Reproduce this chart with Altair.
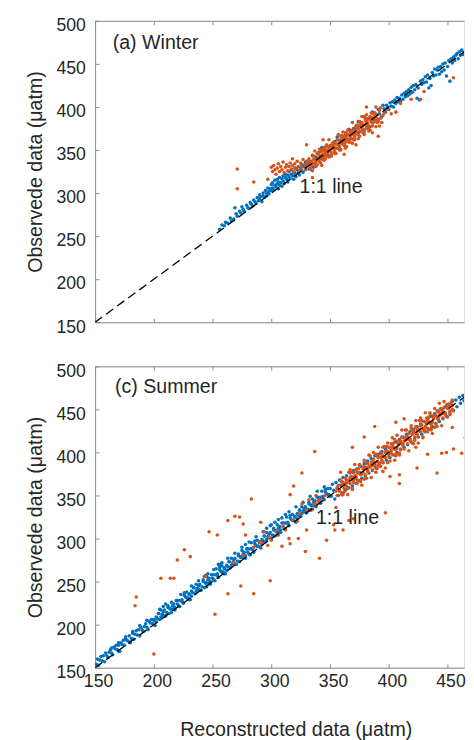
import altair as alt
import pandas as pd

BLUE = "#0072BD"
ORANGE = "#D95319"
TXT = "#262626"
AX = "#8a8a8a"
FONT = "Liberation Sans"

x_ticks = [150, 200, 250, 300, 350, 400, 450]
y_ticks = [150, 200, 250, 300, 350, 400, 450, 500]
x_domain = [150, 464]
y_domain = [150, 500]
one_to_one = [150, 500]

winter_blue = [
    (256,258),(258,263),(260,262),(261,266),(263,265),(265,271),(266,268),(268,270),(269,283),(270,276),
    (271,273),(273,279),(274,277),(275,284),(276,281),(277,279),(279,286),(280,283),(281,282),(282,289),
    (283,287),(284,285),(285,292),(286,290),(287,288),(288,295),(289,291),(290,298),(290,293),(291,296),
    (292,290),(293,300),(293,297),(294,295),(295,303),(296,300),(296,297),(297,306),(298,302),(298,299),
    (299,305),(300,310),(300,303),
    (301,306),(301,312),(302,304),(303,309),(303,315),(304,307),(305,311),(305,316),(306,305),(306,313),
    (307,309),(307,318),(308,312),(309,308),(309,317),(310,314),(310,320),(311,311),(312,318),(312,322),
    (313,316),(314,313),(314,321),(315,319),(315,325),(316,317),(317,322),(317,327),(318,320),(319,316),
    (319,325),(320,323),(320,329),(321,319),(322,327),(323,324),(323,331),(324,321),(325,329),(326,326),
    (326,333),(327,324),(328,331),(329,327),(329,336),(330,333),
    (331,337),(332,328),(334,336),(335,344),(336,330),(338,342),(339,339),(340,347),(342,340),(343,353),
    (344,339),(346,349),(347,355),(348,347),(350,355),(351,344),(352,353),(354,360),(355,352),(356,365),
    (358,354),(359,361),(360,367),(362,356),(363,367),(364,363),(366,374),(367,367),(368,363),(370,375),
    (371,374),(372,370),(374,383),(375,371),(376,382),(378,379),(379,373),(380,387),(382,379),(383,387),
    (384,377),(386,394),(387,385),(388,393),(390,386),(391,397),(392,392),(394,389),(395,402),
    (396,398),(397,394),(398,402),(399,400),(400,397),(401,405),(402,401),(403,406),(404,400),(405,408),
    (406,404),(407,411),(408,406),(409,410),(410,407),(411,414),(412,409),(413,416),(414,412),(415,418),
    (416,413),(417,420),(418,415),(419,423),(420,417),(421,425),(422,420),(423,426),(424,410),(425,422),
    (426,408),(427,430),(428,426),(429,432),(430,428),(431,435),(432,429),(433,437),(434,422),(435,433),
    (436,425),(437,440),(438,436),(439,444),(440,437),(441,443),(442,446),(443,438),(444,447),(445,441),
    (446,450),(447,443),(448,451),(449,436),(450,447),(451,454),(452,430),(453,456),(454,451),(455,458),
    (456,454),(457,460),(458,462),(459,456),(460,464),(461,460),(462,466),(463,461),(464,463),
]

winter_orange = [
    (271,328),(271,305),(285,313),(297,316),(381,400),(330,356),(391,366),(344,362),(372,356),(362,345),
    (335,318),(318,340),(396,393),(399,397),(402,392),(406,394),(410,404),(419,409),(427,409),(455,434),
    (430,418),(392,378),(386,370),
    (300,330),(301,325),(302,332),(303,327),(304,322),(305,329),(306,334),(307,325),(308,331),(309,327),
    (310,336),(311,324),(312,330),(313,333),(314,326),(315,331),(316,335),(317,328),(318,332),(319,325),
    (320,334),(321,329),(322,337),(323,331),(324,326),(325,335),(326,330),(327,339),(328,333),(329,328),
    (330,337),
    (331,333),(332,340),(333,329),(334,337),(335,343),(336,334),(337,339),(338,331),(339,346),(340,341),
    (341,336),(342,348),(343,340),(344,345),(345,338),(346,351),(347,344),(348,349),(349,342),(350,354),
    (351,347),(352,358),(353,351),(354,346),(355,357),(356,352),(357,362),(358,355),(359,350),(360,363),
    (361,357),(362,366),(363,359),(364,354),(365,368),(366,361),(367,371),(368,364),(369,358),(370,373),
    (371,366),(372,377),(373,369),(374,363),(375,378),(376,372),(377,382),(378,374),(379,368),(380,384),
    (381,376),(382,386),(383,378),(384,373),(385,388),(386,381),(387,392),(388,383),(389,377),(390,391),
    (391,385),(392,396),(393,387),(394,382),(395,390),
    (332,334),(334,332),(336,339),(338,337),(340,338),(342,343),(344,341),(346,347),(348,345),(350,350),
    (352,353),(354,352),(356,357),(358,359),(360,358),(362,361),(364,364),(366,367),(368,369),(370,368),
    (372,371),(374,375),(376,378),(378,379),(380,379),(382,381),(384,385),(386,387),(388,388),(390,386),
    (333,337),(337,335),(341,344),(345,343),(349,351),(353,355),(357,356),(361,363),(365,362),(369,370),
    (373,374),(377,376),(381,383),(385,383),(389,391),(343,350),(351,343),(359,366),(367,359),(375,383),
    (383,374),(347,356),(363,370),(371,362),(379,389),
    (335,326),(337,349),(339,333),(341,351),(343,332),(345,353),(347,343),(349,362),(351,343),(353,359),
    (355,346),(357,368),(359,351),(361,371),(363,352),(365,373),(367,363),(369,382),(371,363),(373,379),
    (375,366),(377,389),(379,371),(381,391),(383,372),(385,393),(387,383),(389,400),(391,383),(393,399),
    (336,343),(340,346),(344,349),(348,354),(352,356),(356,362),(360,366),(364,369),(368,373),(372,378),
    (376,381),(380,386),(384,389),(388,393),(334,327),(338,333),(342,335),(346,340),(350,343),(354,348),
    (358,350),(362,355),(366,359),(370,362),(374,368),(378,370),(382,375),(386,378),(390,382),
]

summer_blue = [
    (151,154),(152,160),(153,153),(154,159),(155,163),(156,158),(157,164),(158,157),(159,167),(160,164),
    (161,162),(162,168),(163,171),(164,167),(165,165),(166,174),(167,172),(168,176),(169,171),(170,176),
    (171,169),(172,179),(173,177),(174,182),(175,176),(176,184),(177,182),(178,181),(179,187),(180,180),
    (181,184),(182,190),(183,183),(184,189),(185,193),(186,188),(187,194),(188,187),(189,197),(190,194),
    (191,192),(192,198),(193,201),(194,197),(195,195),(196,204),(197,202),(198,206),(199,201),(200,206),
    (201,199),(202,209),(203,207),(204,213),(205,206),(206,217),(207,212),(208,211),(209,217),(210,210),
    (211,214),(212,220),(213,213),(214,219),(215,226),(216,218),(217,224),(218,217),(219,228),(220,224),
    (221,222),(222,228),(223,235),(224,227),(225,225),(226,234),(227,232),(228,238),(229,231),(230,236),
    (231,229),(232,239),(233,237),(234,243),(235,236),(236,247),(237,242),(238,241),(239,247),(240,240),
    (241,244),(242,250),(243,243),(244,249),(245,256),(246,248),(247,254),(248,247),(249,258),(250,254),
    (251,252),(252,258),(253,265),(254,257),(255,255),(256,264),(257,262),(258,268),(259,261),(260,266),
    (261,259),(262,269),(263,267),(264,273),(265,266),(266,277),(267,272),(268,271),(269,277),(270,270),
    (271,274),(272,280),(273,273),(274,279),(275,286),(276,278),(277,284),(278,277),(279,288),(280,284),
    (281,282),(282,288),(283,295),(284,287),(285,285),(286,294),(287,292),(288,298),(289,291),(290,296),
    (291,289),(292,299),(293,297),(294,303),(295,296),(296,307),(297,302),(298,301),(299,307),(300,300),
    (301,304),(302,310),(303,303),(304,309),(305,316),(306,308),(307,314),(308,307),(309,318),(310,314),
    (311,312),(312,318),(313,325),(314,317),(315,315),(316,324),(317,322),(318,328),(319,321),(320,326),
    (321,319),(322,329),(323,327),(324,333),(325,326),(326,337),(327,332),(328,331),(329,337),(330,330),
    (331,334),(332,340),(333,333),(334,339),(335,346),(336,338),(337,344),(338,337),(339,348),(340,344),
    (341,342),(342,348),(343,355),(344,347),(345,345),(346,354),(347,352),(348,358),(349,351),
    (200,205),(202,203),(204,213),(206,209),(208,215),(210,210),(212,222),(214,218),(216,222),(218,220),
    (220,228),(222,221),(224,229),(226,237),(228,231),(230,235),(232,233),(234,243),(236,239),(238,245),
    (240,240),(242,252),(244,248),(246,252),(248,250),(250,258),(252,251),(254,259),(256,267),(258,261),
    (260,265),(262,263),(264,273),(266,269),(268,275),(270,270),(272,282),(274,278),(276,282),(278,280),
    (280,288),(282,281),(284,289),(286,297),(288,291),(290,295),(292,293),(294,303),(296,299),(298,305),
    (300,300),(302,312),(304,308),(306,312),(308,310),(310,318),(312,311),(314,319),(316,327),(318,321),
    (320,325),(322,323),(324,333),(326,329),(328,335),(330,330),(332,342),(334,338),(336,342),(338,340),
    (340,348),(342,341),(344,349),(346,357),(348,351),
    (296,312),(300,316),(303,319),(306,322),(309,324),(312,328),(205,218),(208,221),(210,224),(243,256),
    (246,259),(255,270),(258,272),(275,290),(278,293),
    (232,245),(238,251),(244,257),(251,264),(257,270),(263,277),(269,283),(281,296),(287,302),(293,308),
    (299,315),(315,331),(321,337),(327,342),(333,349),(339,355),(345,360),(182,192),(188,199),(194,205),
    (176,186),(170,179),(164,173),(230,229),(245,244),(260,259),(285,284),(305,304),(335,334),(350,349),
    (215,214),(195,194),(180,179),(170,169),
    (350,358),(351,349),(352,363),(353,356),(354,346),(355,365),(356,359),(357,350),(358,368),(359,362),
    (360,353),(361,371),(362,364),(363,356),(364,373),(365,367),(366,359),(367,376),(368,370),(369,361),
    (370,379),(371,372),(372,364),(373,381),(374,367),(376,384),(377,370),(379,387),(380,373),(382,390),
    (383,376),(385,393),(386,379),(388,396),(389,382),(391,398),(392,385),(394,401),(395,388),(397,404),
    (398,391),(400,406),(401,394),(403,409),(404,397),(406,412),(407,400),(409,415),(410,403),(412,418),
    (413,406),(415,421),(416,409),(418,424),(419,412),(421,427),(422,415),(424,430),(425,418),(427,433),
    (428,421),(430,436),(431,424),(433,439),(434,427),(436,442),(437,430),(439,445),(440,433),(442,448),
    (443,436),(445,450),(446,439),(448,453),(449,442),(451,456),(452,446),(454,459),(455,449),(457,461),
    (458,453),(460,464),(461,457),(463,466),(464,460),
]

summer_orange = [
    (184,222),(185,232),(200,166),(206,254),(214,254),(217,254),(220,275),(226,287),(231,279),(247,308),
    (254,304),(263,321),(269,326),(273,325),(252,212),(244,256),(263,236),(274,245),(285,236),(276,317),
    (278,304),(283,346),(291,319),(294,308),(299,251),(297,292),(309,291),(315,300),(316,351),(319,361),
    (323,300),(326,376),(337,401),(341,277),(347,298),(353,316),(354,310),(361,310),(355,336),(366,321),
    (370,323),(397,330),(369,406),(359,377),(379,418),(388,430),(406,435),(413,439),(423,406),(424,382),
    (433,398),(441,376),(445,399),(449,400),(455,404),(462,399),(454,429),(465,417),(401,372),(409,374),
    (409,364),(386,385),(391,385),(395,378),(361,351),(338,340),(330,310),(329,285),(316,294),(306,304),
    (285,290),(292,294),(298,302),(304,309),(310,314),(318,322),(324,329),(330,333),(336,340),(342,345),
    (346,350),(300,298),(312,310),(322,320),(334,333),(340,344),(268,272),(276,280),(290,296),(338,350),
    (332,345),(326,340),
    (355,355),(356,350),(357,362),(358,356),(359,368),(360,351),(361,364),(362,358),(363,370),(364,365),
    (365,358),(366,377),(367,364),(368,372),(369,358),(370,376),(371,370),(372,380),(373,368),(374,376),
    (375,385),(376,368),(377,375),(378,383),(379,369),(380,383),(381,388),(382,378),(383,383),(384,396),
    (385,385),(386,380),(387,392),(388,386),(389,398),(390,381),(391,394),(392,388),(393,400),(394,395),
    (395,388),(396,407),(397,394),(398,402),(399,388),(400,406),(401,400),(402,410),(403,398),(404,406),
    (405,415),(406,398),(407,405),(408,413),(409,399),(410,413),(411,418),(412,408),(413,413),(414,426),
    (415,415),(416,410),(417,422),(418,416),(419,428),(420,411),(421,424),(422,418),(423,430),(424,425),
    (425,418),(426,437),(427,424),(428,432),(429,418),(430,436),(431,430),(432,440),(433,428),(434,436),
    (435,445),(436,428),(437,435),(438,443),(439,429),(440,443),(441,448),(442,438),(443,443),(444,451),
    (445,445),(446,440),(447,452),(448,446),(449,455),(450,441),(451,454),(452,448),(453,458),(454,455),
    (455,448),
    (356,358),(358,355),(360,366),(362,354),(364,368),(366,365),(368,377),(370,365),(372,373),(374,381),
    (376,366),(378,381),(380,374),(382,387),(384,384),(386,388),(388,385),(390,396),(392,384),(394,398),
    (396,395),(398,407),(400,395),(402,403),(404,411),(406,396),(408,411),(410,404),(412,417),(414,414),
    (416,418),(418,415),(420,426),(422,414),(424,428),(426,425),(428,437),(430,425),(432,433),(434,441),
    (436,426),(438,441),(440,434),(442,447),(444,444),(446,448),(448,445),(450,456),(452,444),(454,461),
    (360,361),(363,362),(366,368),(369,368),(372,371),(375,377),(378,377),(381,382),(384,383),(387,389),
    (390,389),(393,394),(396,395),(399,401),(402,401),(405,404),(408,409),(411,410),(414,416),(417,416),
    (420,421),(423,422),(426,427),(429,428),(432,434),(435,434),(438,439),(441,440),(444,445),(447,446),
    (450,451),
    (365,351),(367,380),(369,357),(371,386),(373,364),(375,386),(377,362),(379,391),(381,370),(383,397),
    (385,371),(387,400),(389,377),(391,406),(393,384),(395,406),(397,382),(399,411),(401,390),(403,417),
    (405,391),(407,420),(409,397),(411,426),(413,404),(415,426),(417,402),(419,431),(421,410),(423,437),
    (425,411),(427,440),(429,417),(431,446),(433,424),(435,446),(437,422),(439,451),(441,430),(443,457),
    (445,431),(447,459),
    (361,365),(364,361),(367,371),(370,368),(373,377),(376,374),(379,383),(382,380),(385,389),(388,384),
    (391,395),(394,391),(397,400),(400,397),(403,407),(406,403),(409,413),(412,410),(415,419),(418,414),
    (421,425),(424,421),(427,431),(430,427),(433,437),(436,432),(439,443),(442,440),(445,449),(448,444),
    (451,455),(454,450),
]

winter_text = [("(a) Winter", 165, 474), ("1:1 line", 324, 307)]
summer_text = [("(c) Summer", 167, 476), ("1:1 line", 338, 324)]


def pts_df(pairs):
    return pd.DataFrame(pairs, columns=["x", "y"])


def xs(axis):
    return alt.X("x:Q", scale=alt.Scale(domain=x_domain, nice=False, zero=False), axis=axis)


def ys(axis):
    return alt.Y("y:Q", scale=alt.Scale(domain=y_domain, nice=False, zero=False), axis=axis)


def panel(blue, orange, texts, bottom_labels):
    main_x = alt.Axis(
        orient="bottom", values=x_ticks, ticks=False, tickSize=0, domain=True,
        domainColor=AX, domainWidth=1, grid=False, labels=bottom_labels,
        labelFontSize=18, labelFont=FONT, labelColor=TXT, labelPadding=5, labelOffset=3,
        labelFlush=False,
        title="Reconstructed data (μatm)" if bottom_labels else None,
        titleFontSize=20, titleFont=FONT, titleColor=TXT, titleFontWeight="normal",
        titleX=205, titleY=63, titleBaseline="middle",
    )
    main_y = alt.Axis(
        orient="left", values=y_ticks, ticks=False, tickSize=0, domain=True,
        domainColor=AX, domainWidth=1, grid=False,
        labelFontSize=18, labelFont=FONT, labelColor=TXT, labelPadding=10, labelOffset=5,
        title="Observede data (μatm)", titleFontSize=20, titleFont=FONT,
        titleColor=TXT, titleFontWeight="normal", titlePadding=11,
    )
    tick_x_bottom = alt.Axis(orient="bottom", values=x_ticks, offset=-4, tickSize=4,
                             tickColor=AX, tickWidth=1, labels=False, domain=False,
                             grid=False, title=None)
    tick_y_left = alt.Axis(orient="left", values=y_ticks, offset=-4, tickSize=4,
                           tickColor=AX, tickWidth=1, labels=False, domain=False,
                           grid=False, title=None)
    top_domain = alt.Axis(orient="top", ticks=False, labels=False, domain=True,
                          domainColor=AX, domainWidth=1, grid=False, title=None)
    tick_x_top = alt.Axis(orient="top", values=x_ticks, offset=-4, tickSize=4,
                          tickColor=AX, tickWidth=1, labels=False, domain=False,
                          grid=False, title=None)

    blue_layer = alt.Chart(pts_df(blue)).mark_circle(
        size=13, opacity=1, color=BLUE, clip=True
    ).encode(x=xs(main_x), y=ys(main_y))

    orange_layer = alt.Chart(pts_df(orange)).mark_circle(
        size=13, opacity=1, color=ORANGE, clip=True
    ).encode(x=xs(tick_x_bottom), y=ys(tick_y_left))

    line_df = pd.DataFrame({"x": one_to_one, "y": one_to_one})
    line_layer = alt.Chart(line_df).mark_line(
        color="black", strokeDash=[9, 5], strokeWidth=1.3, clip=True
    ).encode(x=xs(top_domain), y=ys(None))

    text_df = pd.DataFrame(texts, columns=["label", "x", "y"])
    text_layer = alt.Chart(text_df).mark_text(
        align="left", baseline="middle", fontSize=20, font=FONT, color=TXT
    ).encode(x=xs(tick_x_top), y=ys(None), text="label:N")

    return alt.layer(blue_layer, orange_layer, line_layer, text_layer).resolve_axis(
        x="independent", y="independent"
    ).properties(width=377, height=308)


top = panel(winter_blue, winter_orange, winter_text, False)
bottom = panel(summer_blue, summer_orange, summer_text, True)

chart = alt.vconcat(top, bottom, spacing=25).properties(
    padding={"left": 17, "top": 0, "right": 0, "bottom": 5}
).configure_view(strokeWidth=0).configure(background="white")

chart.save("out.html", embed_options={"renderer": "svg", "actions": False})
